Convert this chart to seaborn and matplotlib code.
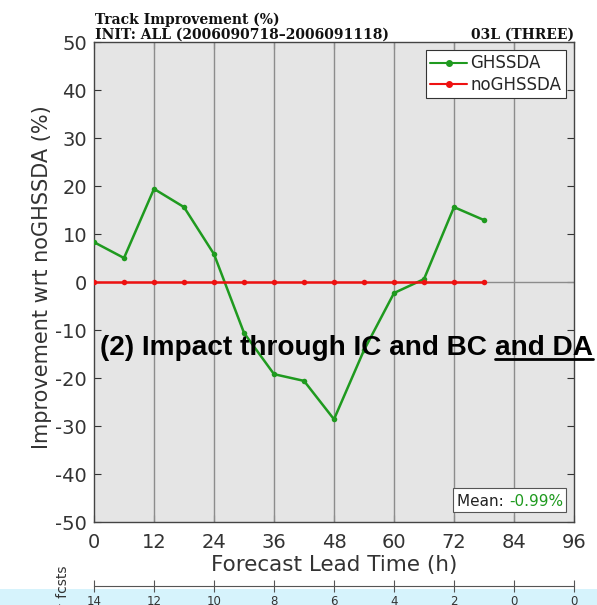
import numpy as np
import pandas as pd
import matplotlib
matplotlib.use("Agg")
import matplotlib.pyplot as plt
import seaborn as sns
from matplotlib.patches import Rectangle
from matplotlib.lines import Line2D

# ---- data ----
lead_hours = [0, 6, 12, 18, 24, 30, 36, 42, 48, 54, 60, 66, 72, 78]
ghssda = [8.3, 5.0, 19.4, 15.6, 5.8, -10.6, -19.2, -20.6, -28.6, -14.2, -2.3, 0.6, 15.6, 12.9]
noghssda = [0.0] * 14
fcst_ticks = [0, 12, 24, 36, 48, 60, 72, 84, 96]
fcst_counts = ["14", "12", "10", "8", "6", "4", "2", "0", "0"]
y_ticks = [-50, -40, -30, -20, -10, 0, 10, 20, 30, 40, 50]
mean_text = "-0.99%"

df = pd.concat([
    pd.DataFrame({"lead": lead_hours, "val": ghssda, "exp": "GHSSDA"}),
    pd.DataFrame({"lead": lead_hours, "val": noghssda, "exp": "noGHSSDA"}),
])

sns.set_style("white")
plt.rcParams["font.family"] = ["DejaVu Sans"]
plt.rcParams["axes.unicode_minus"] = False

W, H = 597, 605
fig = plt.figure(figsize=(W / 100, H / 100), dpi=100)

def fx(px):
    return px / W

def fy(py):
    return 1 - py / H

# light blue band at the bottom
fig.patches.append(Rectangle((0, 0), 1, fy(589), transform=fig.transFigure,
                             facecolor="#d6f3fc", edgecolor="none", zorder=-5))

ax = fig.add_axes([fx(94), fy(522), fx(574) - fx(94), fy(42) - fy(522)])
ax.set_facecolor("#e5e5e5")

for xv in fcst_ticks[1:-1]:
    ax.axvline(xv, color="#8c8c8c", lw=1.0, zorder=1)
ax.axhline(0, color="#8c8c8c", lw=1.0, zorder=1)

palette = {"GHSSDA": "#1f9a1f", "noGHSSDA": "#ee1111"}
sns.lineplot(data=df, x="lead", y="val", hue="exp", palette=palette, marker="o",
             markersize=4, markeredgewidth=0, lw=1.8, ax=ax, legend=False, zorder=3)

ax.set_xlim(0, 96)
ax.set_ylim(-50, 50)
ax.set_xticks(fcst_ticks)
ax.set_yticks(y_ticks)
ax.tick_params(axis="both", direction="in", length=5, width=0.8, color="#333333",
               labelsize=14, labelcolor="#333333", top=True, right=True,
               bottom=True, left=True)
ax.tick_params(axis="x", pad=8)
ax.tick_params(axis="y", pad=5)
for s in ax.spines.values():
    s.set_color("#444444")
    s.set_linewidth(1.0)
ax.set_xlabel("Forecast Lead Time (h)", fontsize=15.5, color="#333333", labelpad=2)
ax.set_ylabel("Improvement wrt noGHSSDA (%)", fontsize=15, color="#333333")
ax.yaxis.set_label_coords((52 - 94) / 480, 0.51)

handles = [Line2D([], [], color=palette[k], marker="o", markersize=4, lw=1.5) for k in palette]
leg = ax.legend(handles, list(palette.keys()), loc="upper right", fontsize=12,
                frameon=True, fancybox=False, framealpha=1, edgecolor="#333333",
                borderpad=0.25, handlelength=2.2, handletextpad=0.2, labelspacing=0.2,
                borderaxespad=0.5)
leg.get_frame().set_linewidth(0.8)

# mean box (right-aligned inside the axes, lower right)
fig.canvas.draw()
r = fig.canvas.get_renderer()
m2 = fig.text(fx(563), fy(506), mean_text, fontsize=11, color="#1f9a1f",
              va="baseline", ha="right", zorder=12)
bb2 = m2.get_window_extent(r)
m1 = fig.text(bb2.x0 / W, fy(506), "Mean: ", fontsize=11, color="#222222",
              va="baseline", ha="right", zorder=12)
bb1 = m1.get_window_extent(r)
fig.patches.append(Rectangle((fx(bb1.x0 - 4), fy(512)),
                             (bb2.x1 - bb1.x0 + 7) / W, 24 / H,
                             transform=fig.transFigure, facecolor="white",
                             edgecolor="#555555", lw=0.8, zorder=11))

# titles
tkw = dict(family="DejaVu Serif", weight="bold", fontsize=10, color="#111111", va="baseline")
fig.text(fx(95), fy(24), "Track Improvement (%)", **tkw)
fig.text(fx(95), fy(39), "INIT: ALL (2006090718\u20132006091118)", **tkw)
fig.text(fx(574), fy(39), "03L (THREE)", ha="right", **tkw)

# number of forecasts axis
ax2 = fig.add_axes([fx(94), fy(586), fx(574) - fx(94), 0.0001], zorder=3)
ax2.set_xlim(0, 96)
ax2.set_xticks(fcst_ticks)
ax2.set_xticklabels(fcst_counts)
ax2.set_yticks([])
for k in ["top", "left", "right"]:
    ax2.spines[k].set_visible(False)
ax2.spines["bottom"].set_color("#555555")
ax2.spines["bottom"].set_linewidth(0.8)
ax2.patch.set_alpha(0)
ax2.tick_params(axis="x", direction="inout", length=8, width=0.8, color="#555555",
                labelsize=8.5, labelcolor="#333333", pad=2.5, bottom=True)
fig.text(fx(63), fy(566), "# fcsts", rotation=90, fontsize=10, color="#333333",
         ha="center", va="top")

# overlay annotation
fs = 20.2
a1 = fig.text(fx(100), fy(355), "(2) Impact through IC and BC ", family="Liberation Sans",
              weight="bold", fontsize=fs, color="black", va="baseline", zorder=20)
fig.canvas.draw()
b1 = a1.get_window_extent(fig.canvas.get_renderer())
a2 = fig.text(b1.x1 / W, fy(355), "and DA", family="Liberation Sans",
              weight="bold", fontsize=fs, color="black", va="baseline", zorder=20)
fig.canvas.draw()
b2 = a2.get_window_extent(fig.canvas.get_renderer())
fig.lines.append(Line2D([b2.x0 / W, b2.x1 / W], [fy(358.5), fy(358.5)],
                        transform=fig.transFigure, color="black", lw=2, zorder=20))

fig.savefig("out.png", dpi=100, facecolor="white")
